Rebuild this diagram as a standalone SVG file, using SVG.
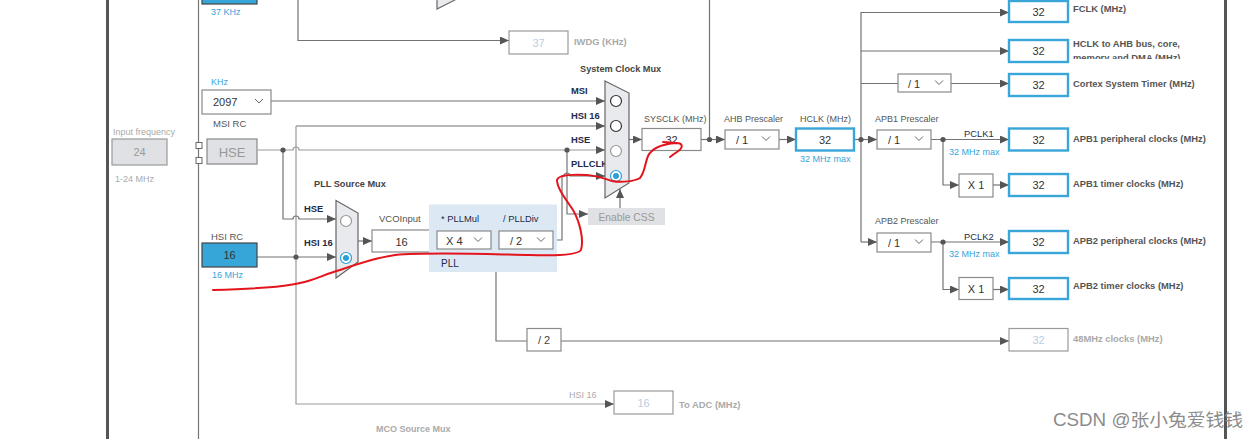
<svg xmlns="http://www.w3.org/2000/svg" width="1260" height="439" viewBox="0 0 1260 439">
<defs>
<marker id="arr" markerUnits="userSpaceOnUse" markerWidth="9" markerHeight="8" refX="9" refY="4" orient="auto">
<path d="M0,0 L9,4 L0,8 z" fill="#555"/>
</marker>
<clipPath id="clipAhb"><rect x="1070" y="36" width="160" height="23"/></clipPath>
</defs>
<style>
text{font-family:"Liberation Sans",Arial,sans-serif}
.ln{fill:none;stroke:#737373;stroke-width:1.2}
.lnl{fill:none;stroke:#9a9a9a;stroke-width:1.2}
.a{marker-end:url(#arr)}
.dot{fill:#555}
.box{fill:#fff;stroke:#8a8a8a;stroke-width:1.2}
.bb{fill:#fff;stroke:#3aa5d8;stroke-width:2.4}
.gb{fill:#fff;stroke:#9a9a9a;stroke-width:1.2}
.dd{fill:#fff;stroke:#8a8a8a;stroke-width:1.2}
.chev{fill:none;stroke:#666;stroke-width:1}
.lbl{font-size:9px;fill:#555}
.nv{font-size:9.4px;fill:#1d2b4a;font-weight:bold}
.nvr{font-size:9.4px;fill:#1d2b4a}
.out{font-size:9.4px;fill:#555;font-weight:bold}
.outg{font-size:9.4px;fill:#aaa;font-weight:bold}
.ttl{font-size:9.2px;fill:#444;font-weight:bold}
.val{font-size:11px;fill:#333;text-anchor:middle}
.valg{font-size:11px;fill:#b9cde2;text-anchor:middle}
.blue{font-size:9px;fill:#36a4da}
.grey{font-size:9px;fill:#aaa}
.mux{fill:#e8eaed;stroke:#666;stroke-width:1.2}
.rb{fill:#fff;stroke:#333;stroke-width:1.2}
.rbl{fill:#fff;stroke:#999;stroke-width:1.2}
.rs{fill:#fff;stroke:#2a9fd6;stroke-width:1.2}
</style>

<g id="frame">
<line x1="107.5" y1="0" x2="107.5" y2="439" stroke="#555" stroke-width="3"/>
<line x1="1225.5" y1="0" x2="1225.5" y2="439" stroke="#555" stroke-width="3"/>
<line x1="198.5" y1="0" x2="198.5" y2="439" stroke="#777" stroke-width="1.2"/>
</g>

<g id="connectors">
<path class="ln a" d="M298,0 V40.5 H509"/>
<path class="ln" d="M709.5,0 V139.5"/>
<path class="ln a" d="M271,101 H605"/>
<path class="ln a" d="M296,126 H605"/>
<path class="lnl a" d="M296,126 V404 H614"/>
<path class="lnl a" d="M258,150 H293 A3,3 0 0 1 299,150 H605"/>
<path class="ln a" d="M283,150 V219 H293 A3,3 0 0 1 299,219 H336"/>
<path class="ln a" d="M257,257 H336"/>
<path class="ln a" d="M358,241 H372"/>
<path class="ln" d="M431,241 H437"/>
<path class="ln" d="M491,240 H499"/>
<path class="ln" d="M496,240 V341 H527"/>
<path class="ln a" d="M561,341 H1009"/>
<path class="ln a" d="M553,240 H562 V176 H564 A3,3 0 0 1 570,176 H605"/>
<path class="ln a" d="M567,150 V214 H588"/>
<path class="ln a" d="M620,208 V189"/>
<path class="ln a" d="M629,139.5 H642"/>
<path class="ln a" d="M701,139.5 H725"/>
<path class="ln a" d="M779,139.5 H796"/>
<path class="ln a" d="M854,139.5 H877"/>
<path class="ln" d="M861,12 V242"/>
<path class="ln a" d="M861,12.5 H1009"/>
<path class="ln a" d="M861,51 H1009"/>
<path class="ln" d="M861,83.5 H898"/>
<path class="ln a" d="M951,83.5 H1009"/>
<path class="ln a" d="M931,139.5 H1009"/>
<path class="ln a" d="M943,139.5 V185 H959"/>
<path class="ln a" d="M993,185 H1009"/>
<path class="ln a" d="M861,242 H877"/>
<path class="ln a" d="M931,242 H1009"/>
<path class="ln a" d="M943,242 V289.5 H959"/>
<path class="ln a" d="M993,289.5 H1009"/>
<circle class="dot" cx="283" cy="150" r="2.6"/>
<circle class="dot" cx="567" cy="150" r="2.6"/>
<circle class="dot" cx="296" cy="257" r="2.6"/>
<circle class="dot" cx="496" cy="240.5" r="1.5"/>
<circle class="dot" cx="709.5" cy="139.5" r="2.6"/>
<circle class="dot" cx="861" cy="139.5" r="2.6"/>
<circle class="dot" cx="943" cy="139.5" r="2.6"/>
<circle class="dot" cx="943" cy="242" r="2.6"/>
</g>

<g id="lsi">
<rect x="202" y="-4" width="55" height="8" fill="#36a6d8" stroke="#444" stroke-width="1.2"/>
<text class="blue" x="211" y="15">37 KHz</text>
<polygon class="mux" points="437,-5 455,-5 455,0 437,9"/>
</g>

<g id="iwdg">
<rect class="gb" x="509" y="31" width="59" height="23"/>
<text class="valg" x="538.5" y="46.5">37</text>
<text class="outg" x="574" y="44.5">IWDG (KHz)</text>
</g>

<g id="msi">
<text class="blue" x="211" y="85">KHz</text>
<rect class="dd" x="202" y="90" width="69" height="24"/>
<text x="213" y="106" style="font-size:11px;fill:#333">2097</text>
<polyline class="chev" points="255,99 259,103 263,99"/>
<text class="lbl" x="213" y="127" style="font-size:9.5px">MSI RC</text>
</g>

<g id="input-frequency">
<text class="grey" x="113" y="135">Input frequency</text>
<rect x="112" y="139" width="55" height="26" fill="#dfe1e4" stroke="#999" stroke-width="1.2"/>
<text x="139.5" y="156" style="font-size:11px;fill:#999;text-anchor:middle">24</text>
<text class="grey" x="115" y="182">1-24 MHz</text>
</g>

<g id="hse">
<rect x="196" y="142.5" width="6" height="6" fill="#fff" stroke="#666" stroke-width="1"/>
<rect x="196" y="157.5" width="6" height="6" fill="#fff" stroke="#666" stroke-width="1"/>
<rect x="207" y="139" width="50" height="25" fill="#dfe1e4" stroke="#888" stroke-width="1.2"/>
<text x="232" y="156.5" style="font-size:13px;fill:#999;text-anchor:middle">HSE</text>
</g>

<g id="hsi-rc">
<text class="lbl" x="211" y="240" style="font-size:9.5px">HSI RC</text>
<rect x="202" y="243" width="55" height="24" fill="#36a6d8" stroke="#444" stroke-width="1.2"/>
<text class="val" x="229.5" y="259">16</text>
<text class="blue" x="212" y="278">16 MHz</text>
</g>

<g id="pll-source-mux">
<text class="ttl" x="314" y="187">PLL Source Mux</text>
<text class="nv" x="304" y="212">HSE</text>
<text class="nv" x="304" y="246">HSI 16</text>
<polygon class="mux" points="336,200.5 358,213 358,262 336,278"/>
<circle class="rbl" cx="346" cy="221" r="5.5"/>
<circle class="rs" cx="346" cy="258" r="5.5"/>
<circle cx="346" cy="258" r="3" fill="#2a9fd6"/>
</g>

<g id="vco-input">
<text class="lbl" x="379" y="222" style="font-size:9.5px">VCOInput</text>
<rect class="box" x="372" y="230" width="59" height="22"/>
<text class="val" x="401.5" y="245.5">16</text>
</g>

<g id="pll">
<rect x="429" y="204.5" width="128" height="67.5" fill="#dce9f5"/>
<text class="nvr" x="441" y="222">* PLLMul</text>
<text class="nvr" x="503" y="222">/ PLLDiv</text>
<text class="nvr" x="441" y="267" style="font-size:10px">PLL</text>
<rect class="dd" x="437" y="231" width="54" height="18"/>
<text x="446" y="245" style="font-size:11px;fill:#333">X 4</text>
<polyline class="chev" points="474,237.5 478,241.5 482,237.5"/>
<rect class="dd" x="499" y="231" width="54" height="18"/>
<text x="510" y="245" style="font-size:11px;fill:#333">/ 2</text>
<polyline class="chev" points="537,237.5 541,241.5 545,237.5"/>
</g>

<g id="system-clock-mux">
<text class="ttl" x="580" y="72">System Clock Mux</text>
<text class="nv" x="571" y="94">MSI</text>
<text class="nv" x="571" y="118.5">HSI 16</text>
<text class="nv" x="571" y="143">HSE</text>
<text class="nv" x="571" y="167">PLLCLK</text>
<polygon class="mux" points="605,81 629,93 629,183 605,198"/>
<circle class="rb" cx="616" cy="101" r="5.5"/>
<circle class="rb" cx="616" cy="126" r="5.5"/>
<circle class="rbl" cx="616" cy="151" r="5.5"/>
<circle class="rs" cx="616" cy="176" r="5.5"/>
<circle cx="616" cy="176" r="3" fill="#2a9fd6"/>
</g>

<g id="enable-css">
<rect x="588" y="208" width="77" height="17" fill="#dfe1e4"/>
<text x="626.5" y="221" style="font-size:10.3px;fill:#999;text-anchor:middle">Enable CSS</text>
</g>

<g id="sysclk">
<text class="lbl" x="644" y="122">SYSCLK (MHz)</text>
<rect class="box" x="642" y="128.5" width="59" height="22"/>
<text class="val" x="671.5" y="143.5">32</text>
</g>

<g id="ahb-prescaler">
<text class="lbl" x="724" y="122">AHB Prescaler</text>
<rect class="dd" x="725" y="130" width="54" height="19"/>
<text x="736" y="144" style="font-size:11px;fill:#333">/ 1</text>
<polyline class="chev" points="762,136.5 766,140.5 770,136.5"/>
</g>

<g id="hclk">
<text class="lbl" x="800" y="122">HCLK (MHz)</text>
<rect class="bb" x="796" y="128.5" width="58" height="22"/>
<text class="val" x="825" y="143.5">32</text>
<text class="blue" x="800" y="162">32 MHz max</text>
</g>

<g id="fclk">
<rect class="bb" x="1009" y="1" width="59" height="21"/>
<text class="val" x="1038.5" y="16">32</text>
<text class="out" x="1073" y="11.5">FCLK (MHz)</text>
</g>

<g id="hclk-ahb">
<rect class="bb" x="1009" y="40" width="59" height="22"/>
<text class="val" x="1038.5" y="55">32</text>
<g clip-path="url(#clipAhb)">
<text class="out" x="1073" y="47">HCLK to AHB bus, core,</text>
<text class="out" x="1073" y="60.5">memory and DMA (MHz)</text>
</g>
</g>

<g id="cortex-timer">
<rect class="dd" x="898" y="74" width="53" height="18"/>
<text x="908" y="88" style="font-size:11px;fill:#333">/ 1</text>
<polyline class="chev" points="935,80.5 939,84.5 943,80.5"/>
<rect class="bb" x="1009" y="74" width="59" height="22"/>
<text class="val" x="1038.5" y="89">32</text>
<text class="out" x="1073" y="87">Cortex System Timer (MHz)</text>
</g>

<g id="apb1-prescaler">
<text class="lbl" x="875" y="122">APB1 Prescaler</text>
<rect class="dd" x="877" y="130" width="54" height="19"/>
<text x="888" y="144" style="font-size:11px;fill:#333">/ 1</text>
<polyline class="chev" points="915,136.5 919,140.5 923,136.5"/>
<text class="nvr" x="964" y="137">PCLK1</text>
<text class="blue" x="949" y="155">32 MHz max</text>
</g>

<g id="apb1-peripheral">
<rect class="bb" x="1009" y="128.5" width="59" height="22"/>
<text class="val" x="1038.5" y="143.5">32</text>
<text class="out" x="1073" y="142">APB1 peripheral clocks (MHz)</text>
</g>

<g id="apb1-timer">
<rect class="box" x="959" y="174" width="34" height="23"/>
<text class="val" x="976" y="189">X 1</text>
<rect class="bb" x="1009" y="174" width="59" height="22"/>
<text class="val" x="1038.5" y="189">32</text>
<text class="out" x="1073" y="187">APB1 timer clocks (MHz)</text>
</g>

<g id="apb2-prescaler">
<text class="lbl" x="875" y="224">APB2 Prescaler</text>
<rect class="dd" x="877" y="233" width="54" height="19"/>
<text x="888" y="247" style="font-size:11px;fill:#333">/ 1</text>
<polyline class="chev" points="915,239.5 919,243.5 923,239.5"/>
<text class="nvr" x="964" y="240">PCLK2</text>
<text class="blue" x="949" y="257">32 MHz max</text>
</g>

<g id="apb2-peripheral">
<rect class="bb" x="1009" y="231" width="59" height="22"/>
<text class="val" x="1038.5" y="246">32</text>
<text class="out" x="1073" y="244">APB2 peripheral clocks (MHz)</text>
</g>

<g id="apb2-timer">
<rect class="box" x="959" y="277.5" width="34" height="22"/>
<text class="val" x="976" y="293">X 1</text>
<rect class="bb" x="1009" y="278" width="59" height="21"/>
<text class="val" x="1038.5" y="293">32</text>
<text class="out" x="1073" y="289">APB2 timer clocks (MHz)</text>
</g>

<g id="div2">
<rect class="box" x="527" y="328.5" width="34" height="22.5"/>
<text x="544" y="344" style="font-size:11px;fill:#444;text-anchor:middle">/ 2</text>
</g>

<g id="clk48">
<rect class="gb" x="1009" y="328.5" width="59" height="22.5"/>
<text class="valg" x="1038.5" y="344">32</text>
<text class="outg" x="1073" y="341.5">48MHz clocks (MHz)</text>
</g>

<g id="to-adc">
<text class="grey" x="569" y="398">HSI 16</text>
<rect class="gb" x="614" y="391" width="59" height="23"/>
<text class="valg" x="643.5" y="407">16</text>
<text class="outg" x="679" y="408">To ADC (MHz)</text>
</g>

<g id="mco">
<text class="outg" x="376" y="432" style="font-size:9px">MCO Source Mux</text>
</g>

<g id="annotation">
<path d="M213,290 C250,289 285,287 300,283 C315,280 325,274 340,270 C360,263 375,258 395,255 C430,252 480,254 530,255 C560,256 578,254 581,250 C584,240 580,222 573,210 C565,198 557,188 557,180 C558,175 570,174 587,175 C600,176 606,179 612,181 C622,183 635,181 640,178 C645,172 645,163 648,156 C652,148 663,144 676,143 C684,143 683,148 677,152 C674,154 671,156 670,157" fill="none" stroke="#e3141c" stroke-width="2" stroke-linecap="round" stroke-linejoin="round"/>
<path d="M663,142 L676,143" fill="none" stroke="#e3141c" stroke-width="1.8" stroke-linecap="round"/>
</g>

<g id="watermark">
<text x="1053" y="426" textLength="190" lengthAdjust="spacingAndGlyphs" style="font-family:'Liberation Sans','Noto Sans CJK SC',sans-serif;font-size:17.5px;fill:#8c8c8c">CSDN @张小兔爱钱钱</text>
</g>
</svg>
